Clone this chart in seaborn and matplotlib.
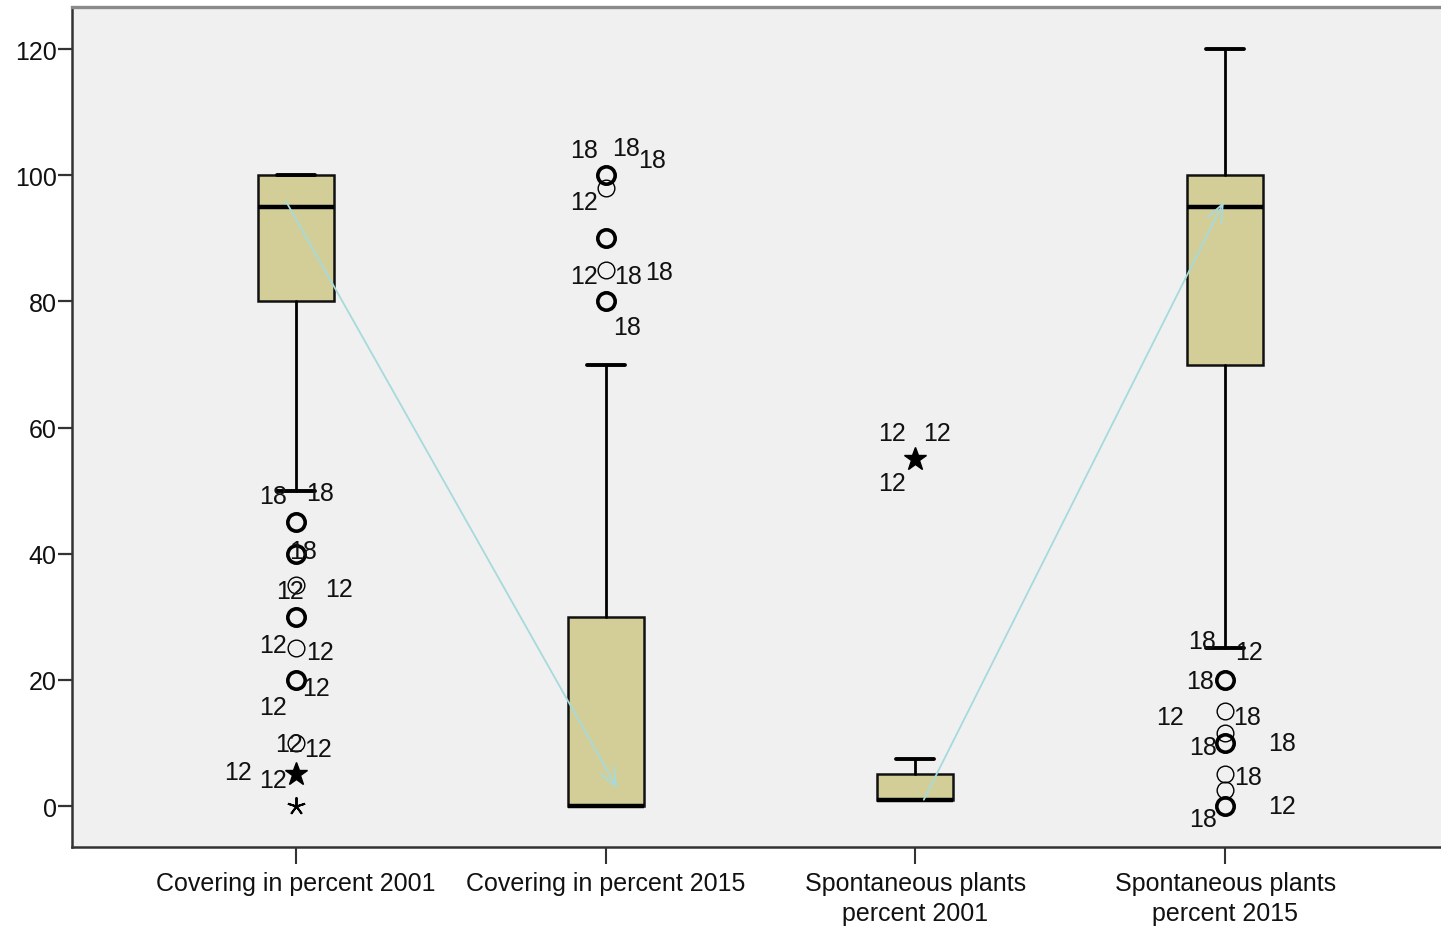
import matplotlib
matplotlib.use("Agg")
import matplotlib.pyplot as plt
import seaborn as sns
import numpy as np

# ---------------- data ----------------
categories = ["Covering in percent 2001", "Covering in percent 2015",
              "Spontaneous plants\npercent 2001", "Spontaneous plants\npercent 2015"]
q1 = [80, 0, 1, 70]
median = [95, 0, 1, 95]
q3 = [100, 30, 5, 100]
whisker_low = [50, 0, 1, 25]
whisker_high = [100, 70, 7.5, 120]

# outliers: (value, number of overlapping cases)
circle_outliers = [
    [(45, 2), (40, 2), (35, 1), (30, 2), (25, 1), (20, 2), (10, 1)],
    [(100, 3), (98, 1), (90, 2), (85, 1), (80, 2)],
    [],
    [(20, 2), (15, 1), (11.5, 1), (10, 2), (5, 1), (2.5, 1), (0, 2)],
]
star_outliers = [
    [(5, 3), (0, 1)],
    [],
    [(55, 3)],
    [],
]
# case labels: (text, x offset from category, y value)
case_labels = [
    [("18", -0.074, 49.1), ("18", 0.077, 49.6), ("18", 0.023, 40.4),
     ("12", -0.019, 34.1), ("12", 0.139, 34.4), ("12", -0.074, 25.5),
     ("12", 0.077, 24.4), ("12", 0.065, 18.7), ("12", -0.074, 15.7),
     ("12", -0.023, 9.8), ("12", 0.071, 9.0), ("12", -0.187, 5.4),
     ("12", -0.074, 4.1)],
    [("18", -0.071, 104.1), ("18", 0.065, 104.4), ("18", 0.149, 102.5),
     ("12", -0.071, 95.7), ("12", -0.071, 84.0), ("18", 0.071, 84.0),
     ("18", 0.171, 84.6), ("18", 0.068, 75.9)],
    [("12", -0.074, 59.1), ("12", 0.071, 59.1), ("12", -0.074, 51.2)],
    [("18", -0.074, 26.1), ("12", 0.077, 24.4), ("18", -0.081, 19.8),
     ("12", -0.178, 14.1), ("18", 0.071, 14.1), ("18", -0.071, 9.4),
     ("18", 0.184, 10.0), ("18", 0.074, 4.6), ("18", -0.071, -2.1),
     ("12", 0.184, 0.0)],
]
# arrows: (x_start, y_start, x_end, y_end)
arrows = [(-0.036, 96.2, 1.042, 2.4), (2.023, 0.6, 3.0, 96.2)]
yticks = [0, 20, 40, 60, 80, 100, 120]

# ---------------- style ----------------
sns.set_theme(style="white")
plt.rcParams["font.family"] = ["Liberation Sans", "DejaVu Sans"]

fig = plt.figure(figsize=(14.41, 9.29), dpi=100)
fig.patch.set_facecolor("white")
ax = fig.add_axes([0.05, 0.0872, 0.95, 0.9042])
ax.set_facecolor("#f0f0f0")

box_color = "#d3ce97"
stats = []
for i in range(len(categories)):
    stats.append(dict(med=median[i], q1=q1[i], q3=q3[i],
                      whislo=whisker_low[i], whishi=whisker_high[i],
                      fliers=[], label=categories[i]))
positions = np.arange(len(categories))
ax.bxp(stats, positions=positions, widths=0.245, patch_artist=True,
       showfliers=False, capwidths=0.123,
       boxprops=dict(facecolor=box_color, edgecolor="#111111", linewidth=1.8),
       medianprops=dict(color="black", linewidth=3.2, solid_capstyle="butt"),
       whiskerprops=dict(color="black", linewidth=2.0),
       capprops=dict(color="black", linewidth=2.8))

for i, pts in enumerate(circle_outliers):
    for v, n in pts:
        ax.plot(i, v, marker="o", ms=12.5 if n > 1 else 12,
                mfc="none", mec="black", mew=2.6 if n > 1 else 1.0,
                linestyle="none", zorder=5)
for i, pts in enumerate(star_outliers):
    for v, n in pts:
        if n > 1:
            ax.plot(i, v, marker="*", ms=17, mfc="black", mec="black",
                    mew=1.0, linestyle="none", zorder=5)
        else:
            ax.plot(i, v, marker=(5, 2, 0), ms=13, mec="black",
                    mew=1.4, linestyle="none", zorder=5)

for i, labs in enumerate(case_labels):
    for t, dx, y in labs:
        ax.text(i + dx, y, t, ha="center", va="center", fontsize=18,
                color="#111111", zorder=6)

for x0, y0, x1, y1 in arrows:
    ax.annotate("", xy=(x1, y1), xytext=(x0, y0),
                arrowprops=dict(arrowstyle="->,head_length=1.1,head_width=0.45",
                                color="#a6dadd", lw=1.3), zorder=4)

ax.set_xlim(-0.723, 3.697)
ax.set_ylim(-6.5, 126.7)
ax.set_yticks(yticks)
ax.set_yticklabels([str(t) for t in yticks])
ax.set_xticks(positions)
ax.set_xticklabels(categories, linespacing=1.3)

ax.tick_params(axis="y", direction="out", length=10, width=1.6,
               color="#333333", labelsize=18, pad=1, left=True,
               labelcolor="#111111")
ax.tick_params(axis="x", direction="out", length=12.5, width=1.5,
               color="#333333", labelsize=18, pad=5, bottom=True,
               labelcolor="#111111")

ax.spines["right"].set_visible(False)
ax.spines["top"].set_color("#8a8a8a")
ax.spines["top"].set_linewidth(2.4)
ax.spines["left"].set_color("#333333")
ax.spines["left"].set_linewidth(1.8)
ax.spines["bottom"].set_color("#333333")
ax.spines["bottom"].set_linewidth(1.8)
ax.grid(False)

fig.savefig("out.png", dpi=100, facecolor="white")
